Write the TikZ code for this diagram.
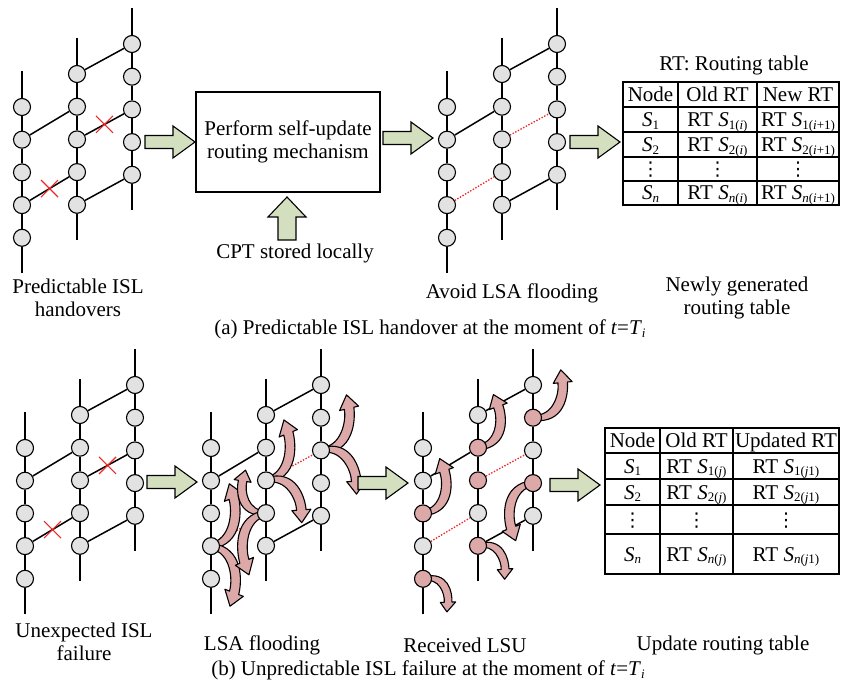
\documentclass[tikz,border=0pt]{standalone}
\usepackage{fontspec}
\setmainfont{Liberation Serif}
\newfontfamily\dotsfont{DejaVu Sans}
\usetikzlibrary{calc}
\pgfdeclarelayer{wires}
\pgfdeclarelayer{flood}
\pgfsetlayers{wires,flood,main}

\definecolor{satgray}{RGB}{226,226,226}
\definecolor{lsupink}{RGB}{221,168,168}
\definecolor{sage}{RGB}{211,223,190}
\definecolor{cutred}{RGB}{238,40,40}

% subscripts of the routing-table entries
\newcommand{\sbx}[1]{\raisebox{-0.3ex}{\fontsize{13}{13}\selectfont #1}}
\newcommand{\satn}[1]{\textit{S}\sbx{#1}}
\newcommand{\rts}[1]{RT~\textit{S}\sbx{#1}}
\newcommand{\vdotsx}{{\dotsfont\fontsize{19}{19}\selectfont ⋮}}

% three orbital planes with five satellites each
% #1 name prefix, #2 x of plane 1, #3 y of its first satellite,
% #4 style of the two links that change (handover / failure)
\newcommand{\constellation}[4]{%
  \foreach \pl/\dy in {1/0,2/-33,3/-63}{%
    \foreach \sn in {1,...,5}{%
      \node[satnode, pick/.expanded={#1\pl\sn}] (#1-\pl-\sn)
        at ({#2+55*(\pl-1)},{#3+\dy+32.7*(\sn-1)}) {};
    }
    \coordinate (#1-\pl-top) at ({#2+55*(\pl-1)},{#3+\dy-36});
    \coordinate (#1-\pl-bot) at ({#2+55*(\pl-1)},{#3+\dy+165.8});
    \begin{pgfonlayer}{wires}
      \draw[plane] (#1-\pl-top) -- (#1-\pl-1) -- (#1-\pl-2) -- (#1-\pl-3)
        -- (#1-\pl-4) -- (#1-\pl-5) -- (#1-\pl-bot);
    \end{pgfonlayer}
  }
  \begin{pgfonlayer}{wires}
    \draw[isl] (#1-1-2) -- (#1-2-2);
    \draw[isl] (#1-2-1) -- (#1-3-1);
    \draw[isl] (#1-2-5) -- (#1-3-5);
    \draw[#4] (#1-1-4) -- (#1-2-4);
    \draw[#4] (#1-2-3) -- (#1-3-3);
  \end{pgfonlayer}
}

\begin{document}
\begin{tikzpicture}[x=1pt,y=-1pt,
  satnode/.style={circle, draw=black, line width=1.1pt, fill=satgray,
    minimum size=17pt, inner sep=0pt},
  pick/.style={pink #1/.try},
  pink e13/.style={fill=lsupink}, pink e15/.style={fill=lsupink},
  pink e22/.style={fill=lsupink}, pink e23/.style={fill=lsupink},
  pink e25/.style={fill=lsupink}, pink e32/.style={fill=lsupink},
  pink e34/.style={fill=lsupink},
  plane/.style={draw=black, line width=1.5pt},
  isl/.style={draw=black, line width=1.5pt},
  lost/.style={draw=cutred, line width=1.3pt, dash pattern=on 1.4pt off 1.6pt},
  cutmark/.style={draw=cutred, line width=1.2pt},
  floodarrow/.style={draw=black, line width=1.1pt, fill=lsupink, line join=round},
  sagearrow/.style={draw=black, line width=1.1pt, fill=sage, line join=miter},
  grid/.style={draw=black, line width=1.4pt},
  txt/.style={font=\fontsize{21}{23}\selectfont, inner sep=0pt, align=center},
  cell/.style={font=\fontsize{21}{23}\selectfont, inner sep=0pt,
    text height=14pt, text depth=0pt},
  % curved flooding arrow: tail at the origin, tip near (0,-1), bulging to +x
  flood/.pic={
    \path[floodarrow] (0.02,0.04) .. controls (0.53,-0.13) and (0.37,-0.64) .. (0.268,-0.822)
      -- (0.336,-0.865) -- (0.083,-0.967) -- (0.064,-0.695) -- (0.132,-0.738)
      .. controls (0.23,-0.58) and (0.30,-0.16) .. (-0.02,-0.04) -- cycle;
  },
  blockarrow/.pic={
    \path[sagearrow] (0,-6.5) -- (28,-6.5) -- (28,-16) -- (50,0) -- (28,16)
      -- (28,6.5) -- (0,6.5) -- cycle;
  }
]
\useasboundingbox (0,0) rectangle (841,687);

% ---------------- (a) predictable handover ----------------
\constellation{a}{22}{107}{isl}
\draw[cutmark] ($(a-1-4)!0.5!(a-2-4)$) +(-8.5,-8.5) -- +(8.5,8.5) +(-8.5,8.5) -- +(8.5,-8.5);
\draw[cutmark] ($(a-2-3)!0.5!(a-3-3)$) +(-8.5,-8.5) -- +(8.5,8.5) +(-8.5,8.5) -- +(8.5,-8.5);
\node[txt] (lblA) at (78,297.5) {Predictable ISL\\handovers};

\coordinate (flowA) at (145,142);
\pic at (flowA) {blockarrow};

\node[draw=black, line width=1.3pt, minimum width=184pt, minimum height=100pt,
  txt, inner sep=0pt] (engine) at (288,142) {Perform self-update\\routing mechanism};

\coordinate (cptbase) at (287,240);
\path[sagearrow] (cptbase) ++(-9,0) -- ++(0,-23) -- ++(-10,0) -- ++(19,-20)
  -- ++(19,20) -- ++(-10,0) -- ++(0,23) -- cycle;
\node[txt] (lblB) at (295,253) {CPT stored locally};

\coordinate (flowB) at (383,138);
\pic at (flowB) {blockarrow};

\constellation{b}{447}{107}{lost}
\node[txt] (lblC) at (512,293) {Avoid LSA flooding};

\coordinate (flowC) at (570,142);
\pic at (flowC) {blockarrow};

% routing table after the handover
\node[txt] (rtTitle) at (734,65) {RT: Routing table};
\draw[grid] (623,82) rectangle (839,205);
\foreach \ry in {107,132,157,181} \draw[grid] (623,\ry) -- (839,\ry);
\foreach \rx in {678,757} \draw[grid] (\rx,82) -- (\rx,205);
\node[cell] (ta-h1) at (650.5,94.5) {Node};
\node[cell] (ta-h2) at (717.5,94.5) {Old RT};
\node[cell] (ta-h3) at (798,94.5) {New RT};
\node[cell] (ta-11) at (650.5,119.5) {\satn{1}};
\node[cell] (ta-12) at (717.5,119.5) {\rts{1(\textit{i})}};
\node[cell] (ta-13) at (798,119.5) {\rts{1(\textit{i}+1)}};
\node[cell] (ta-21) at (650.5,144.5) {\satn{2}};
\node[cell] (ta-22) at (717.5,144.5) {\rts{2(\textit{i})}};
\node[cell] (ta-23) at (798,144.5) {\rts{2(\textit{i}+1)}};
\node[cell] (ta-31) at (650.5,169) {\vdotsx};
\node[cell] (ta-32) at (717.5,169) {\vdotsx};
\node[cell] (ta-33) at (798,169) {\vdotsx};
\node[cell] (ta-41) at (650.5,193) {\satn{\textit{n}}};
\node[cell] (ta-42) at (717.5,193) {\rts{\textit{n}(\textit{i})}};
\node[cell] (ta-43) at (798,193) {\rts{\textit{n}(\textit{i}+1)}};
\node[txt] (lblD) at (737,297.5) {Newly generated\\routing table};

\node[txt] (capA) at (430,329)
  {(a) Predictable ISL handover at the moment of \textit{t}=\textit{T}\sbx{\textit{i}}};

% ---------------- (b) unpredictable failure ----------------
\constellation{c}{25}{448}{isl}
\draw[cutmark] ($(c-1-4)!0.5!(c-2-4)$) +(-8.5,-8.5) -- +(8.5,8.5) +(-8.5,8.5) -- +(8.5,-8.5);
\draw[cutmark] ($(c-2-3)!0.5!(c-3-3)$) +(-8.5,-8.5) -- +(8.5,8.5) +(-8.5,8.5) -- +(8.5,-8.5);
\node[txt] (lblE) at (84,641.5) {Unexpected ISL\\failure};

\coordinate (flowD) at (147,482);
\pic at (flowD) {blockarrow};

\constellation{d}{211}{448}{lost}
\begin{pgfonlayer}{flood}
  \pic[rotate=-12, xscale=60, yscale=67] at (d-1-4) {flood};
  \pic[rotate=-167, xscale=-60, yscale=65] at (d-1-4) {flood};
  \pic[rotate=-12, xscale=60, yscale=65] at (d-2-3) {flood};
  \pic[rotate=-145, xscale=-60, yscale=57] at (d-2-3) {flood};
  \pic[rotate=20, xscale=-55, yscale=49] at (d-2-4) {flood};
  \pic[rotate=169, xscale=60, yscale=66] at (d-2-4) {flood};
  \pic[rotate=-20, xscale=60, yscale=63] at (d-3-3) {flood};
  \pic[rotate=-146, xscale=-60, yscale=58] at (d-3-3) {flood};
\end{pgfonlayer}
\node[txt] (lblF) at (262,645) {LSA flooding};

\coordinate (flowE) at (358,483);
\pic at (flowE) {blockarrow};

\constellation{e}{423}{448}{lost}
\begin{pgfonlayer}{flood}
  \pic[rotate=-12, xscale=60, yscale=59] at (e-1-3) {flood};
  \pic[rotate=-150, xscale=-50, yscale=42] at (e-1-5) {flood};
  \pic[rotate=-11, xscale=60, yscale=57] at (e-2-2) {flood};
  \pic[rotate=-147, xscale=-50, yscale=44] at (e-2-5) {flood};
  \pic[rotate=-25, xscale=60, yscale=57] at (e-3-2) {flood};
  \pic[rotate=168, xscale=60, yscale=62] at (e-3-4) {flood};
\end{pgfonlayer}
\node[txt] (lblG) at (465,645) {Received LSU};

\coordinate (flowF) at (550,485);
\pic at (flowF) {blockarrow};

% routing table after the failure
\draw[grid] (605,428) rectangle (839,574);
\foreach \ry in {453,479,505,534} \draw[grid] (605,\ry) -- (839,\ry);
\foreach \rx in {660,733} \draw[grid] (\rx,428) -- (\rx,574);
\node[cell] (tb-h1) at (632.5,440.5) {Node};
\node[cell] (tb-h2) at (696.5,440.5) {Old RT};
\node[cell] (tb-h3) at (786,440.5) {Updated RT};
\node[cell] (tb-11) at (632.5,466) {\satn{1}};
\node[cell] (tb-12) at (696.5,466) {\rts{1(\textit{j})}};
\node[cell] (tb-13) at (786,466) {\rts{1(\textit{j}1)}};
\node[cell] (tb-21) at (632.5,492) {\satn{2}};
\node[cell] (tb-22) at (696.5,492) {\rts{2(\textit{j})}};
\node[cell] (tb-23) at (786,492) {\rts{2(\textit{j}1)}};
\node[cell] (tb-31) at (632.5,519.5) {\vdotsx};
\node[cell] (tb-32) at (696.5,519.5) {\vdotsx};
\node[cell] (tb-33) at (786,519.5) {\vdotsx};
\node[cell] (tb-41) at (632.5,554) {\satn{\textit{n}}};
\node[cell] (tb-42) at (696.5,554) {\rts{\textit{n}(\textit{j})}};
\node[cell] (tb-43) at (786,554) {\rts{\textit{n}(\textit{j}1)}};
\node[txt] (lblH) at (723,645) {Update routing table};

\node[txt] (capB) at (428,670)
  {(b) Unpredictable ISL failure at the moment of \textit{t}=\textit{T}\sbx{\textit{i}}};
\end{tikzpicture}
\end{document}
